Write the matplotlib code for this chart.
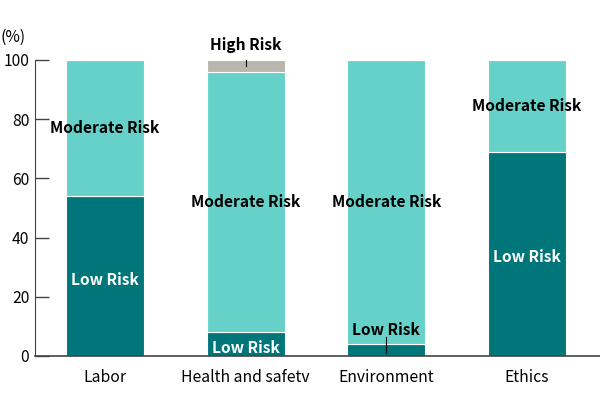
import numpy as np
import matplotlib
matplotlib.use("Agg")
import matplotlib.pyplot as plt

plt.rcParams['font.family'] = ['Noto Sans CJK JP', 'DejaVu Sans']

categories = ['Labor', 'Health and safetv', 'Environment', 'Ethics']
low = np.array([54, 8, 4, 69])
moderate = np.array([46, 88, 96, 31])
high = np.array([0, 4, 0, 0])

c_low = '#00767B'
c_mod = '#66D1C9'
c_high = '#B9B6AF'

fig = plt.figure(figsize=(6, 4), dpi=100)
ax = fig.add_axes([0.058, 0.11, 0.942, 0.74])

x = np.arange(len(categories))
w = 0.555
ax.bar(x, low, w, color=c_low, edgecolor='white', linewidth=0.8)
ax.bar(x, moderate, w, bottom=low, color=c_mod, edgecolor='white', linewidth=0.8)
ax.bar(x, high, w, bottom=low + moderate, color=c_high, edgecolor='white', linewidth=0.8)

fs = 11.2
for i in range(len(categories)):
    # low risk
    if low[i] >= 6:
        ax.text(x[i], low[i] / 2 - 1.2, 'Low Risk', ha='center', va='center',
                color='white', fontsize=fs, fontweight='bold')
    else:
        ax.plot([x[i], x[i]], [low[i] / 2 - 1, low[i] + 2.3], color='black', lw=0.8)
        ax.text(x[i], low[i] + 4.7, 'Low Risk', ha='center', va='center',
                color='black', fontsize=fs, fontweight='bold')
    # moderate risk
    ax.text(x[i], low[i] + moderate[i] / 2, 'Moderate Risk', ha='center',
            va='center', color='black', fontsize=fs, fontweight='bold')
    # high risk
    if high[i] > 0:
        top = low[i] + moderate[i] + high[i]
        ax.plot([x[i], x[i]], [top - high[i] / 2, top + 2], color='black', lw=0.8)
        ax.text(x[i], top + 5, 'High Risk', ha='center', va='center',
                color='black', fontsize=fs, fontweight='bold')

ax.set_xlim(-0.5, 3.52)
ax.set_ylim(0, 100)
ax.set_yticks([0, 20, 40, 60, 80, 100])
ax.set_xticks(x)
ax.set_xticklabels(categories, fontsize=11.3)
ax.tick_params(axis='y', direction='in', length=10, width=1, color='#444444',
               labelsize=11.3, pad=4)
ax.tick_params(axis='x', length=0, pad=9)
for s in ['top', 'right']:
    ax.spines[s].set_visible(False)
ax.spines['left'].set_color('#444444')
ax.spines['bottom'].set_color('#444444')
ax.spines['bottom'].set_linewidth(1.2)
ax.text(-0.06, 1.078, '(%)', transform=ax.transAxes, fontsize=11.3, ha='left', va='center')

fig.savefig('out.png', dpi=100)
